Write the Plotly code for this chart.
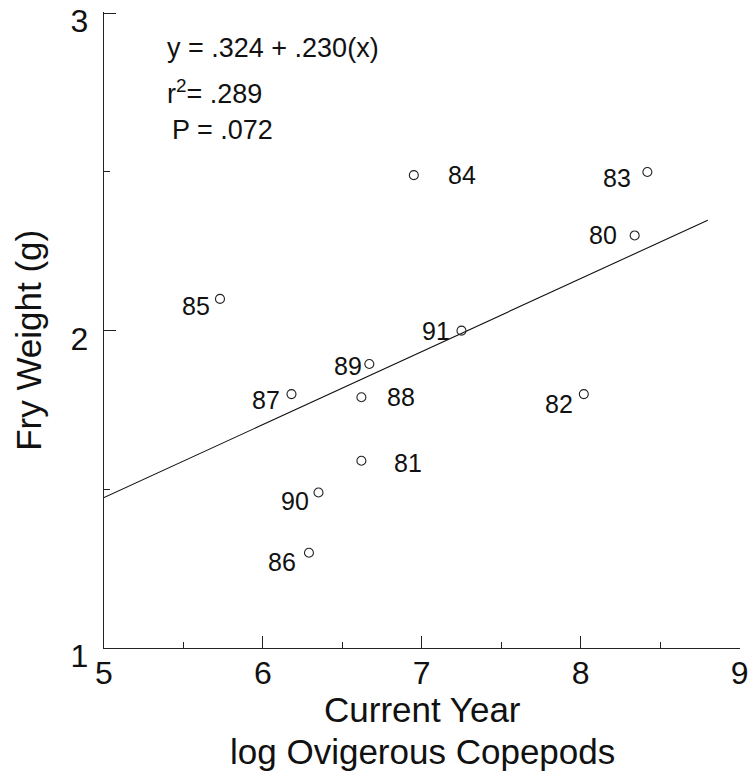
import plotly.graph_objects as go

# Fry weight vs. current-year ovigerous copepod abundance, labelled by year
years = ["80", "81", "82", "83", "84", "85", "86", "87", "88", "89", "90", "91"]
log_copepods = [8.34, 6.62, 8.02, 8.42, 6.95, 5.73, 6.29, 6.18, 6.62, 6.67, 6.35, 7.25]
fry_weight = [2.30, 1.59, 1.80, 2.50, 2.49, 2.10, 1.30, 1.80, 1.79, 1.895, 1.49, 2.00]

# Regression line y = a + b x
intercept = 0.324
slope = 0.230
fit_x = [5.0, 8.8]
fit_y = [intercept + slope * v for v in fit_x]

stats_lines = ["y = .324 + .230(x)", "r<sup>2</sup>= .289", "P = .072"]
x_title_lines = ["Current Year", "log Ovigerous Copepods"]
y_title = "Fry Weight (g)"

# Pixel offsets of each year label from its point (dx, dy)
label_offsets = {
    "80": (-32, 0), "81": (47, -2), "82": (-25, -10), "83": (-30, -6),
    "84": (48, 0), "85": (-24, -7), "86": (-27, -9), "87": (-25, -6),
    "88": (40, 0), "89": (-21, -2), "90": (-23, -9), "91": (-25, 0),
}

FONT = "Liberation Sans, Arial, sans-serif"
INK = "#111111"

fig = go.Figure()
fig.add_trace(go.Scatter(
    x=fit_x, y=fit_y, mode="lines",
    line=dict(color=INK, width=1.1),
    hoverinfo="skip", showlegend=False,
))
fig.add_trace(go.Scatter(
    x=log_copepods, y=fry_weight, mode="markers",
    marker=dict(symbol="circle-open", size=9, color="#222222",
                line=dict(width=1.1, color="#222222")),
    showlegend=False,
))

for yr, xv, yv in zip(years, log_copepods, fry_weight):
    dx, dy = label_offsets[yr]
    fig.add_annotation(x=xv, y=yv, text=yr, showarrow=False,
                       xshift=dx, yshift=dy,
                       font=dict(family=FONT, size=25, color=INK))

stat_pos = [0.943, 0.874, 0.814]
stat_x = [0.096, 0.096, 0.103]
for txt, px, py in zip(stats_lines, stat_x, stat_pos):
    fig.add_annotation(xref="paper", yref="paper", x=px, y=py, text=txt,
                       showarrow=False, xanchor="left", yanchor="middle",
                       font=dict(family=FONT, size=27, color=INK))

# Axis titles
for txt, py in zip(x_title_lines, [-0.0960, -0.1620]):
    fig.add_annotation(xref="paper", yref="paper", x=0.5, y=py, text=txt,
                       showarrow=False, xanchor="center", yanchor="middle",
                       font=dict(family=FONT, size=35, color=INK))
fig.add_annotation(xref="paper", yref="paper", x=-0.12, y=0.484, text=y_title,
                   textangle=-90, showarrow=False, xanchor="center", yanchor="middle",
                   font=dict(family=FONT, size=35, color=INK))

axis_common = dict(
    showgrid=False, zeroline=False, automargin=False,
    showline=True, linecolor="#222222", linewidth=1.4,
    ticks="inside", ticklen=12, tickwidth=1.2, tickcolor="#222222",
    tickfont=dict(family=FONT, size=32, color=INK),
    ticklabeloverflow="allow",
    minor=dict(ticks="inside", ticklen=6, tickwidth=1, tickcolor="#222222", dtick=0.5),
)

fig.update_xaxes(range=[5, 9.003], dtick=1, tick0=5, ticklabelstandoff=-4, **axis_common)
fig.update_yaxes(range=[1, 3.004], dtick=1, tick0=1, ticklabelstandoff=8,
                 ticklabelshift=8, **axis_common)

fig.update_layout(
    width=749, height=776,
    margin=dict(l=104, r=9, t=12, b=128, autoexpand=False),
    plot_bgcolor="white", paper_bgcolor="white",
    showlegend=False,
)

fig.write_html("out.html")
